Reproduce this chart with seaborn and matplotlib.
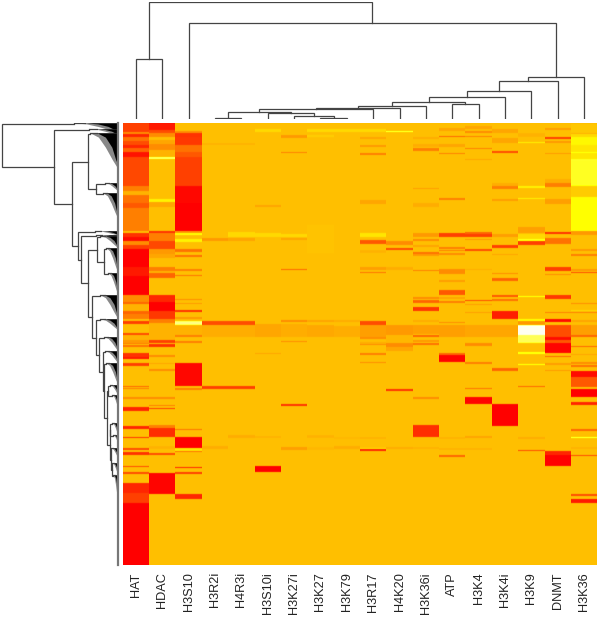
import numpy as np
import pandas as pd
import seaborn as sns
import matplotlib
matplotlib.use("Agg")
import matplotlib.pyplot as plt
from matplotlib.colors import LinearSegmentedColormap

COLUMNS = ["HAT","HDAC","H3S10","H3R2i","H4R3i","H3S10i","H3K27i","H3K27","H3K79",
           "H3R17","H4K20","H3K36i","ATP","H3K4","H3K4i","H3K9","DNMT","H3K36"]
N_ROWS = 442
BASE = 75

# score bands per column: (first row, last row, score); 0 red, 75 orange, 100 yellow, 130 white
HAT = [(0,9,25),(9,11,55),(11,14,15),(14,18,45),(18,22,30),(22,25,15),(25,29,40),(29,34,8),(34,63,28),
       (63,68,50),(68,72,70),(72,80,45),(80,85,35),(85,108,50),(108,110,75),(110,114,20),(114,118,5),
       (118,122,55),(122,126,25),(126,144,0),(144,153,10),(153,172,0),(172,179,55),(179,181,40),(181,188,70),
       (188,191,40),(191,196,50),(196,198,75),(198,201,25),(210,212,30),(212,217,70),(217,220,60),(220,221,50),
       (222,224,45),(230,234,20),(234,236,10),(240,243,25),(263,264,40),(265,266,50),(274,276,55),(284,288,15),
       (303,306,15),(314,315,20),(325,327,30),(329,332,20),(343,344,30),(349,351,30),(360,370,15),(370,380,25),(380,442,0)]
HDAC = [(0,7,10),(7,10,30),(10,14,55),(17,21,65),(21,27,55),(27,34,70),(34,36,115),(76,79,95),(79,84,65),
        (108,110,20),(110,118,50),(118,126,28),(126,131,60),(131,135,65),(144,148,50),(148,150,70),(150,155,40),
        (172,179,15),(179,188,0),(188,196,22),(196,200,50),(200,217,70),(217,220,25),(221,224,20),(232,234,55),
        (240,241,65),(246,248,55),(274,276,55),(282,283,50),(285,286,25),(302,305,50),(305,314,18),(323,326,70),
        (330,332,30),(350,371,2)]
H3S10 = [(8,10,55),(10,14,20),(14,22,22),(22,29,45),(29,34,35),(34,63,25),(63,80,3),(80,108,0),(108,110,60),
         (110,112,100),(116,119,95),(126,129,45),(132,134,45),(146,148,50),(152,153,45),(176,177,55),(180,181,60),
         (187,189,20),(194,196,60),(198,202,115),(202,212,70),(212,214,50),(218,220,50),(240,263,3),(265,267,50),
         (306,307,45),(314,325,0),(325,328,90),(328,329,45),(344,345,15),(349,351,25),(371,376,15)]
H3R2I = [(20,22,70),(115,118,60),(198,202,30),(202,214,68),(263,266,25),(323,326,68)]
H4R3I = [(20,22,70),(109,114,85),(115,118,65),(198,202,30),(202,214,68),(263,266,25),(312,315,68)]
H3S10I = [(6,9,85),(82,84,65),(110,114,85),(201,214,65),(230,231,65),(313,315,70),(343,349,0)]
H3K27I = [(12,15,60),(29,30,50),(111,114,85),(115,117,65),(146,147,40),(197,199,55),(201,214,68),(218,219,55),
          (281,283,20),(324,327,62)]
H3K27 = [(6,9,85),(12,14,80),(102,130,76.5),(197,199,65),(202,214,66),(312,315,70),(324,327,72)]
H3K79 = [(6,9,85),(197,199,68),(203,214,68),(314,316,72),(323,326,68)]
H3R17 = [(6,9,85),(14,16,65),(22,24,60),(30,32,50),(77,81,65),(110,114,90),(117,121,35),(127,130,70),(144,147,62),
         (149,150,45),(198,202,30),(202,214,62),(214,216,55),(219,221,68),(221,222,55),(230,232,50),(239,240,55),
         (314,316,70),(325,326,90),(326,328,15)]
H4K20 = [(8,9,115),(118,122,55),(125,127,30),(144,147,68),(202,212,60),(212,220,72),(220,224,55),(224,228,65),(266,268,20),
         (324,326,68)]
H3K36I = [(14,16,68),(21,24,68),(25,28,50),(65,66,62),(80,84,68),(110,114,60),(116,118,55),(122,124,65),(129,131,45),
          (131,133,60),(147,148,50),(174,176,55),(177,180,40),(184,188,22),(197,199,68),(202,211,62),(212,214,40),
          (217,219,60),(220,222,45),(274,276,55),(302,314,18),(324,326,70)]
ATP = [(5,8,65),(13,14,40),(21,24,65),(30,31,50),(75,77,50),(110,114,25),(124,126,50),(127,128,50),(130,132,55),
       (146,151,55),(157,159,62),(167,172,35),(174,176,65),(178,180,50),(199,200,55),(202,214,62),(230,232,40),
       (232,239,2),(314,316,70),(325,327,70),(332,334,40)]
H3K4 = [(3,6,65),(8,10,55),(13,14,50),(25,26,50),(36,37,65),(109,111,40),(111,114,25),(116,117,60),(126,128,30),
        (146,147,68),(177,178,30),(181,182,62),(189,190,62),(202,214,65),(220,223,55),(239,241,50),(265,266,45),
        (274,281,2),(313,315,65),(325,327,70)]
H3K4I = [(6,10,65),(15,20,65),(28,30,30),(60,63,68),(63,66,50),(76,78,62),(111,114,62),(122,125,25),(131,132,65),(150,151,55),
         (155,158,40),(172,174,35),(176,178,45),(188,196,12),(202,214,65),(245,248,40),(281,303,1)]
H3K9 = [(10,14,70),(19,20,95),(63,65,95),(75,76,95),(104,110,62),(111,116,85),(116,118,105),(118,122,25),(173,174,105),
        (196,198,100),(198,202,60),(202,212,128),(212,220,110),(229,231,105),(241,242,105),(263,264,40),(314,316,68),
        (327,328,30)]
DNMT = [(5,7,62),(14,16,25),(18,20,60),(30,31,60),(56,60,68),(60,64,50),(76,81,62),(109,111,20),(115,121,45),(144,148,25),
        (151,152,55),(172,176,22),(189,190,50),(196,199,5),(202,214,30),(214,217,5),(217,220,35),(220,230,2),
        (233,234,40),(240,242,62),(247,248,60),(328,332,15),(332,343,0)]
H3K36 = [(1,10,78),(10,11,70),(11,14,85),(14,22,97),(22,29,90),(29,30,105),(30,36,90),(36,37,105),(37,63,104),
         (63,74,80),(74,108,100),(108,112,60),(126,128,60),(131,133,50),(146,148,60),(149,150,30),(180,181,55),
         (187,188,85),(189,190,50),(197,199,65),(202,212,62),(212,214,40),(223,224,40),(231,232,65),(239,241,55),
         (242,244,45),(248,254,5),(254,264,35),(266,274,0),(279,282,15),(306,308,40),(314,315,115),(324,326,70),
         (332,333,30),(371,373,30),(376,380,10)]
BANDS = [HAT,HDAC,H3S10,H3R2I,H4R3I,H3S10I,H3K27I,H3K27,H3K79,H3R17,H4K20,H3K36I,ATP,H3K4,H3K4I,H3K9,DNMT,H3K36]

# column tree: (left, right, merge height); integers are column positions
c_a = (3, 4, 0.7)
c_b = (7, 8, 1.3)
c_c = (6, c_b, 3.3)
c_d = (5, c_c, 5.7)
c_e = (c_a, c_d, 6.7)
c_f = (c_e, 9, 9.7)
c_g = (c_f, 10, 11.3)
c_h = (c_g, 11, 13.3)
c_i = (12, 13, 14.7)
c_j = (c_h, c_i, 16.7)
c_k = (c_j, 14, 22.3)
c_l = (c_k, 15, 27.7)
c_m = (c_l, 16, 37.7)
c_n = (c_m, 17, 42.3)
c_o = (2, c_n, 95.7)
COL_TREE = ((0, 1, 59.7), c_o, 117.0)

def F(a, b, h):
    """Tight group of rows a..b joined at height h."""
    return {"a": a, "b": b, "h": h}

# row tree: (upper, lower, merge height)
t1 = (F(340, 352, 6), F(352, 380, 5), 6)
t2 = (F(325, 335, 7), t1, 7)
t3 = (F(300, 312, 6), F(312, 320, 5), 8)
t4 = (t3, t2, 8)
t5 = (F(262, 272, 8), F(272, 285, 6), 10)
t6 = (t5, t4, 11)
t7 = (F(240, 262, 12), t6, 14)
t8 = (F(228, 240, 13), t7, 15)
t9 = (F(214, 228, 14), t8, 19)
t10 = (F(196, 207, 18), t9, 22)
t11 = (F(172, 196, 18), t10, 26)
s1 = (F(125, 150, 12), F(150, 172, 10), 14)
s2 = (F(113, 125, 18), s1, 21)
t12 = (s2, t11, 30)
n80 = (F(112, 116, 22), t12, 38)
n77 = (F(108, 112, 23), n80, 41)
n96 = (F(60, 68, 13), F(70, 96, 15), 22)
n88 = (F(10, 46, 28), n96, 30)
n71 = (n88, n77, 47)
n54 = (F(6, 12, 29), n71, 64)
ROW_TREE = (F(0, 9, 45), n54, 117.0)

HEAT = LinearSegmentedColormap.from_list(
    "heat", [(0, "#FF0000"), (100/130, "#FFFF00"), (1, "#FFFFFF")])

matrix = np.full((N_ROWS, len(COLUMNS)), float(BASE))
for j, bands in enumerate(BANDS):
    for a, b, v in bands:
        matrix[a:b, j] = v
    # the source image is slightly soft along the rows
    padded = np.r_[matrix[0, j], matrix[:, j], matrix[-1, j]]
    matrix[:, j] = np.convolve(padded, [0.15, 0.7, 0.15], mode="valid")
table = pd.DataFrame(matrix, columns=COLUMNS)

W, H = 600, 617
LINE = "#444444"
LW = 0.9
plt.rcParams["font.family"] = ["Liberation Sans", "DejaVu Sans"]
fig = plt.figure(figsize=(W/100, H/100), dpi=100)

X0, X1, Y0, Y1 = 122.7, 597.3, 123.3, 565.3
ax = fig.add_axes([X0/W, 1-Y1/H, (X1-X0)/W, (Y1-Y0)/H])
sns.heatmap(table, ax=ax, cmap=HEAT, vmin=0, vmax=130, cbar=False,
            xticklabels=COLUMNS, yticklabels=False)
ax.tick_params(axis="x", length=0, pad=5, labelsize=9.2, labelcolor="#222222")
plt.setp(ax.get_xticklabels(), rotation=90, ha="center", va="top")
ax.set_xlabel("")
ax.set_ylabel("")

# column dendrogram
top = fig.add_axes([X0/W, 1-119/H, (X1-X0)/W, 117.5/H])
top.set_xlim(0, len(COLUMNS))
top.set_ylim(0, 117.5)
top.axis("off")

def draw_cols(node):
    if isinstance(node, int):
        return node + 0.5, 0.0
    left, right, h = node
    xa, ha = draw_cols(left)
    xb, hb = draw_cols(right)
    top.plot([xa, xa, xb, xb], [ha, h, h, hb], color=LINE, lw=LW, solid_joinstyle="miter")
    return (xa + xb) / 2, h

draw_cols(COL_TREE)

# row dendrogram
LEAF_X = 118.5
side = fig.add_axes([0, 1-Y1/H, LEAF_X/W, (Y1-Y0)/H])
side.set_xlim(LEAF_X, 0)
side.set_ylim(N_ROWS, 0)
side.axis("off")

def draw_rows(node):
    if isinstance(node, dict):
        a, b, h = node["a"], node["b"], node["h"]
        s = b - a
        # wedge: thin at its tip, dense next to the leaves
        side.fill([h, h*0.7, h*0.45, h*0.2, 0, 0], [a, a+0.12*s, a+0.4*s, a+0.75*s, b, a],
                  color="#888888", lw=0)
        side.fill([h*0.75, h*0.45, h*0.22, h*0.08, 0, 0], [a, a+0.12*s, a+0.4*s, a+0.75*s, a+0.9*s, a],
                  color="black", lw=0)
        side.plot([h, h*0.75], [a, a], color=LINE, lw=LW)
        return a + 1, h
    upper, lower, h = node
    ya, ha = draw_rows(upper)
    yb, hb = draw_rows(lower)
    side.plot([ha, h, h, hb], [ya, ya, yb, yb], color=LINE, lw=LW, solid_joinstyle="miter")
    return (ya + yb) / 2, h

draw_rows(ROW_TREE)
side.plot([0, 0], [0, N_ROWS], color="#777777", lw=1.6, clip_on=False)

fig.savefig("out.png", dpi=100, facecolor="white")
